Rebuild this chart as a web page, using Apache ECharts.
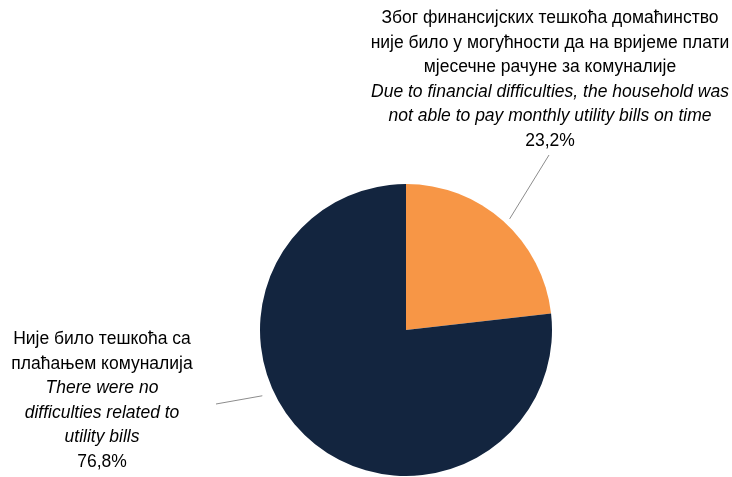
<!DOCTYPE html>
<html>
<head>
<meta charset="utf-8">
<script src="https://cdn.jsdelivr.net/npm/echarts@6/dist/echarts.min.js"></script>
<style>
  html, body { margin: 0; padding: 0; background: #fff; }
  #chart { width: 732px; height: 477px; }
</style>
</head>
<body>
<div id="chart"></div>
<script>
// podaci
var names = [
  ['Због финансијских тешкоћа домаћинство', 'није било у могућности да на вријеме плати', 'мјесечне рачуне за комуналије'],
  ['Није било тешкоћа са', 'плаћањем комуналија']
];
var namesEn = [
  ['Due to financial difficulties, the household was', 'not able to pay monthly utility bills on time'],
  ['There were no', 'difficulties related to', 'utility bills']
];
var values = [23.2, 76.8];
var colors = ['#F79646', '#13253F'];

var cx = 406, cy = 330, R = 146;
var FONT = '"Liberation Sans Narrow", "Arial Narrow", "Liberation Sans", sans-serif';

// tacka na krugu, ugao od vrha u smjeru kazaljke
function polar(deg, r) {
  var a = deg * Math.PI / 180;
  return [cx + r * Math.sin(a), cy - r * Math.cos(a)];
}

// pozicije labela
var labelPos = [
  { x: 550, y: 6, from: polar(43, 152), to: [549, 155] },
  { x: 102, y: 327, from: polar(245.4, 158), to: [216, 404] }
];

var data = values.map(function (v, i) {
  return { value: v, name: 'l' + i, itemStyle: { color: colors[i] } };
});

var myChart = echarts.init(document.getElementById('chart'));
var option = {
  animation: false,
  series: [{
    type: 'pie',
    center: [cx, cy],
    radius: R,
    startAngle: 90,
    clockwise: true,
    data: data,
    label: {
      show: true,
      position: 'outside',
      align: 'center',
      overflow: 'none',
      formatter: function (p) {
        var i = p.dataIndex;
        var s = names[i].map(function (t) { return '{n|' + t + '}'; });
        namesEn[i].forEach(function (t) { s.push('{e|' + t + '}'); });
        s.push('{n|' + values[i].toFixed(1).replace('.', ',') + '%}');
        return s.join('\n');
      },
      rich: {
        n: { fontFamily: FONT, fontSize: 17.5, lineHeight: 24.5, color: '#000', align: 'center' },
        e: { fontFamily: FONT, fontSize: 17.5, lineHeight: 24.5, color: '#000', fontStyle: 'italic', align: 'center' }
      }
    },
    labelLine: {
      show: true,
      lineStyle: { color: '#8c8c8c', width: 1 }
    },
    labelLayout: function (params) {
      var p = labelPos[params.dataIndex];
      return {
        x: p.x,
        y: p.y,
        align: 'center',
        verticalAlign: 'top',
        labelLinePoints: [p.from, p.from, p.to]
      };
    }
  }]
};
myChart.setOption(option);
</script>
</body>
</html>
